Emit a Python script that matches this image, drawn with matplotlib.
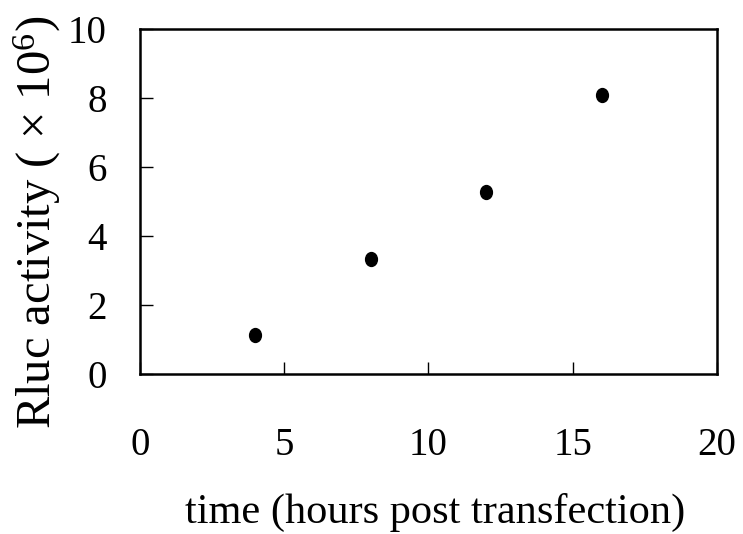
import matplotlib
matplotlib.use("Agg")
import matplotlib.pyplot as plt
from matplotlib.markers import MarkerStyle
from matplotlib.transforms import Affine2D

# data
hours = [4, 8, 12, 16]
rluc_activity = [1.13, 3.33, 5.28, 8.09]

x_ticks = [0, 5, 10, 15, 20]
y_ticks = [0, 2, 4, 6, 8, 10]

plt.rcParams["font.family"] = ["Liberation Serif", "DejaVu Serif"]
plt.rcParams["mathtext.fontset"] = "custom"
plt.rcParams["mathtext.rm"] = "Liberation Serif"
plt.rcParams["mathtext.it"] = "Liberation Serif:italic"

fig = plt.figure(figsize=(7.43, 5.34), dpi=100)
ax = fig.add_axes([0.1884, 0.2996, 0.7766, 0.6461])

marker = MarkerStyle("o", transform=Affine2D().scale(0.85, 1.0))
ax.plot(hours, rluc_activity, linestyle="none", marker=marker,
        markersize=10, color="black")

ax.set_xlim(0, 20)
ax.set_ylim(0, 10)
ax.set_xticks(x_ticks)
ax.set_yticks(y_ticks)

for side in ["left", "bottom", "top", "right"]:
    ax.spines[side].set_linewidth(1.8)

ax.tick_params(axis="both", direction="in", length=9, width=1.0,
               labelsize=28)
ax.tick_params(axis="x", pad=38)
ax.tick_params(axis="y", pad=24)

ax.set_xlabel("time (hours post transfection)", fontsize=30.5)
ax.set_ylabel(r"Rluc activity ( $\times$ 10$^{6}$)", fontsize=35)
ax.xaxis.set_label_coords(0.511, -0.40)
ax.yaxis.set_label_coords(-0.178, 0.438)
ax.xaxis.label.set_va("center")
ax.yaxis.label.set_va("center")

fig.savefig("out.png", dpi=100)
